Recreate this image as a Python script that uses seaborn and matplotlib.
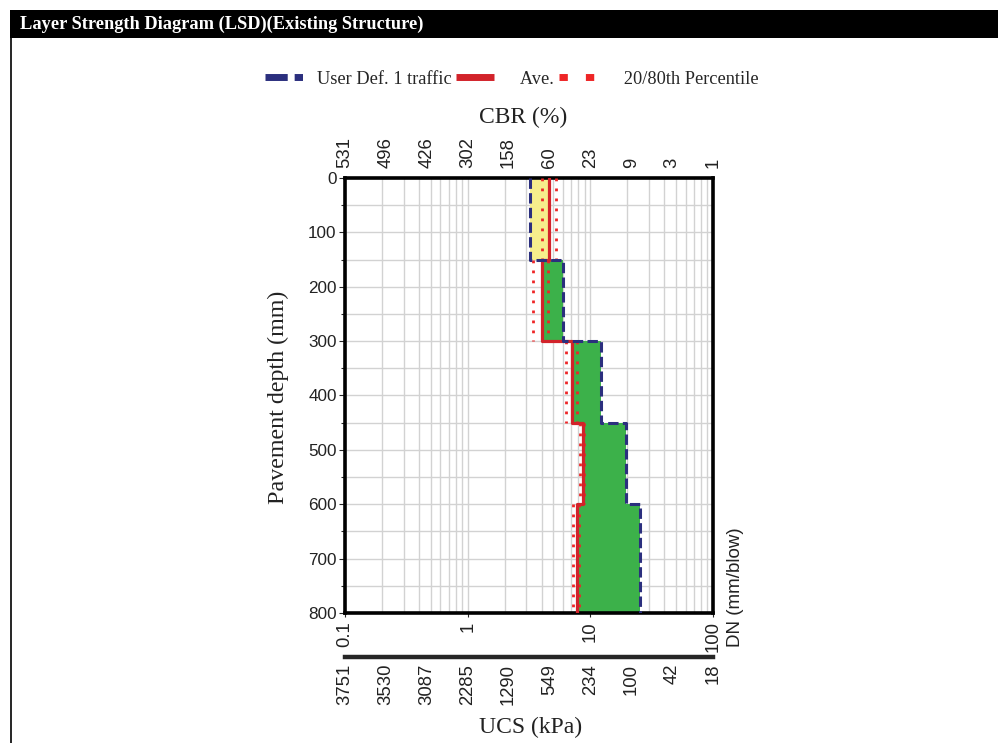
import matplotlib
matplotlib.use('Agg')
import matplotlib.pyplot as plt
import matplotlib.ticker as mticker
from matplotlib.lines import Line2D
from matplotlib.patches import Rectangle
import numpy as np
import pandas as pd
import seaborn as sns

# layer data (depth in mm, DN in mm/blow)
layer_top = [0, 150, 300, 450, 600]
layer_bot = [150, 300, 450, 600, 800]
dn_user = [3.2, 6.0, 12.2, 19.5, 25.4]
dn_ave = [4.6, 4.0, 7.1, 8.7, 7.8]
dn_p20 = [4.0, 3.4, 6.3, 8.2, 7.2]
dn_p80 = [5.25, 4.5, 7.8, 8.9, 8.1]

dn_ticks = [0.1, 1, 10, 100]
dn_labels = ['0.1', '1', '10', '100']
cbr_labels = ['531', '496', '426', '302', '158', '60', '23', '9', '3', '1']
ucs_labels = ['3751', '3530', '3087', '2285', '1290', '549', '234', '100', '42', '18']
third_ticks = [10 ** (-1 + k / 3) for k in range(10)]

SERIF = 'Liberation Serif'
SANS = 'Liberation Sans'
NAVY = '#2b2f7e'
RED = '#d2232a'
RED2 = '#ee2526'
YELLOW = '#f6ee8c'
GREEN = '#3cb14a'
TXT = '#222222'

sns.set_style('white')
plt.rcParams['font.family'] = [SANS, 'DejaVu Sans']


def step_frame(values):
    rows = []
    for i, v in enumerate(values):
        rows.append({'layer': i, 'dn': v, 'depth': layer_top[i]})
        rows.append({'layer': i, 'dn': v, 'depth': layer_bot[i]})
    return pd.DataFrame(rows)


fig = plt.figure(figsize=(9.98, 7.43), dpi=100)

# title bar and panel border
fig.patches.append(Rectangle((10 / 998, 1 - 38 / 743), 1, 28 / 743, transform=fig.transFigure,
                             facecolor='black', edgecolor='none'))
fig.text(20 / 998, 1 - 24 / 743, 'Layer Strength Diagram (LSD)(Existing Structure)', color='white',
         fontsize=13.2, fontweight='bold', family=SERIF, va='center', ha='left')
fig.lines.append(Line2D([11 / 998, 11 / 998], [0, 1 - 38 / 743], transform=fig.transFigure,
                        color='black', lw=1.2))

ax = fig.add_axes([345 / 998, 1 - 613 / 743, 368 / 998, 435 / 743])
ax.set_xscale('log')
ax.set_xlim(0.1, 100)
ax.set_ylim(800, 0)

# fills between user-defined and average
for i in range(len(layer_top)):
    col = YELLOW if dn_user[i] < dn_ave[i] else GREEN
    ax.fill_betweenx([layer_top[i], layer_bot[i]], dn_user[i], dn_ave[i], color=col, lw=0, zorder=2)

for vals in (dn_p20, dn_p80):
    sns.lineplot(data=step_frame(vals), x='dn', y='depth', units='layer', estimator=None, sort=False,
                 ax=ax, color=RED2, lw=2.0, linestyle=(0, (1, 2.6)), legend=False, zorder=3)

ave_df = step_frame(dn_ave)
sns.lineplot(x=ave_df['dn'], y=ave_df['depth'], estimator=None, sort=False, ax=ax,
             color=RED, lw=2.3, legend=False, zorder=4)
user_df = step_frame(dn_user)
sns.lineplot(x=user_df['dn'], y=user_df['depth'], estimator=None, sort=False, ax=ax,
             color=NAVY, lw=2.2, linestyle=(0, (3.4, 1.4)), legend=False, zorder=5)

ax.set_xlabel('')
ax.set_ylabel('')
ax.yaxis.set_major_locator(mticker.MultipleLocator(100))
ax.yaxis.set_minor_locator(mticker.MultipleLocator(50))
ax.xaxis.set_major_locator(mticker.FixedLocator(dn_ticks))
ax.xaxis.set_major_formatter(mticker.FixedFormatter(dn_labels))
ax.xaxis.set_minor_locator(mticker.LogLocator(base=10, subs=np.arange(2, 10), numticks=20))
ax.xaxis.set_minor_formatter(mticker.NullFormatter())
ax.grid(which='both', axis='both', color='#d2d2d2', lw=1.0, zorder=0)
ax.set_axisbelow(True)
for s in ax.spines.values():
    s.set_linewidth(2.6)
    s.set_color('black')
ax.tick_params(axis='y', which='major', left=True, length=4, width=0.8, labelsize=12.3,
               labelcolor=TXT, pad=2)
ax.tick_params(axis='y', which='minor', left=True, length=3, width=0.8)
ax.tick_params(axis='x', which='major', bottom=True, length=3, width=0.8, labelsize=13.3,
               labelrotation=90, labelcolor=TXT, pad=3)
ax.tick_params(axis='x', which='minor', bottom=False)

# CBR axis on top
top = ax.secondary_xaxis('top', functions=(lambda x: x, lambda x: x))
top.xaxis.set_major_locator(mticker.FixedLocator(third_ticks))
top.xaxis.set_major_formatter(mticker.FixedFormatter(cbr_labels))
top.xaxis.set_minor_locator(mticker.NullLocator())
top.tick_params(axis='x', length=0, labelsize=13.3, labelrotation=90, labelcolor=TXT, pad=7)
top.spines['top'].set_visible(False)

# UCS axis below
bot = ax.secondary_xaxis(-44 / 435, functions=(lambda x: x, lambda x: x))
bot.xaxis.set_major_locator(mticker.FixedLocator(third_ticks))
bot.xaxis.set_major_formatter(mticker.FixedFormatter(ucs_labels))
bot.xaxis.set_minor_locator(mticker.NullLocator())
bot.tick_params(axis='x', length=0, labelsize=13.3, labelrotation=90, labelcolor=TXT, pad=5)
bot.spines['bottom'].set_linewidth(3.2)

fig.text(523 / 998, 1 - 117 / 743, 'CBR (%)', family=SERIF, fontsize=17, ha='center', va='center',
         color=TXT)
fig.text(531 / 998, 1 - 727 / 743, 'UCS (kPa)', family=SERIF, fontsize=17, ha='center', va='center',
         color=TXT)
fig.text(278 / 998, 1 - 397 / 743, 'Pavement depth (mm)', family=SERIF, fontsize=17.3, rotation=90,
         ha='center', va='center', color=TXT)
fig.text(736 / 998, 1 - 647 / 743, 'DN (mm/blow)', fontsize=13.5, rotation=90, ha='center', va='bottom',
         color=TXT)

handles = [
    Line2D([], [], color=NAVY, lw=5, linestyle=(0, (3.2, 1.0, 1.2, 1.0)), dash_capstyle='butt'),
    Line2D([], [], color=RED, lw=5, solid_capstyle='butt'),
    Line2D([], [], color=RED2, lw=5, linestyle=(0, (1.2, 2.6)), dash_capstyle='butt'),
]
fig.legend(handles, ['User Def. 1 traffic', '   Ave.', '   20/80th Percentile'], loc='center',
           bbox_to_anchor=(512 / 998, 1 - 79 / 743), ncol=3, frameon=False, handlelength=2.1,
           handletextpad=0.7, columnspacing=0.25, prop={'family': SERIF, 'size': 13.2})

fig.savefig('out.png', dpi=100, facecolor='white')
